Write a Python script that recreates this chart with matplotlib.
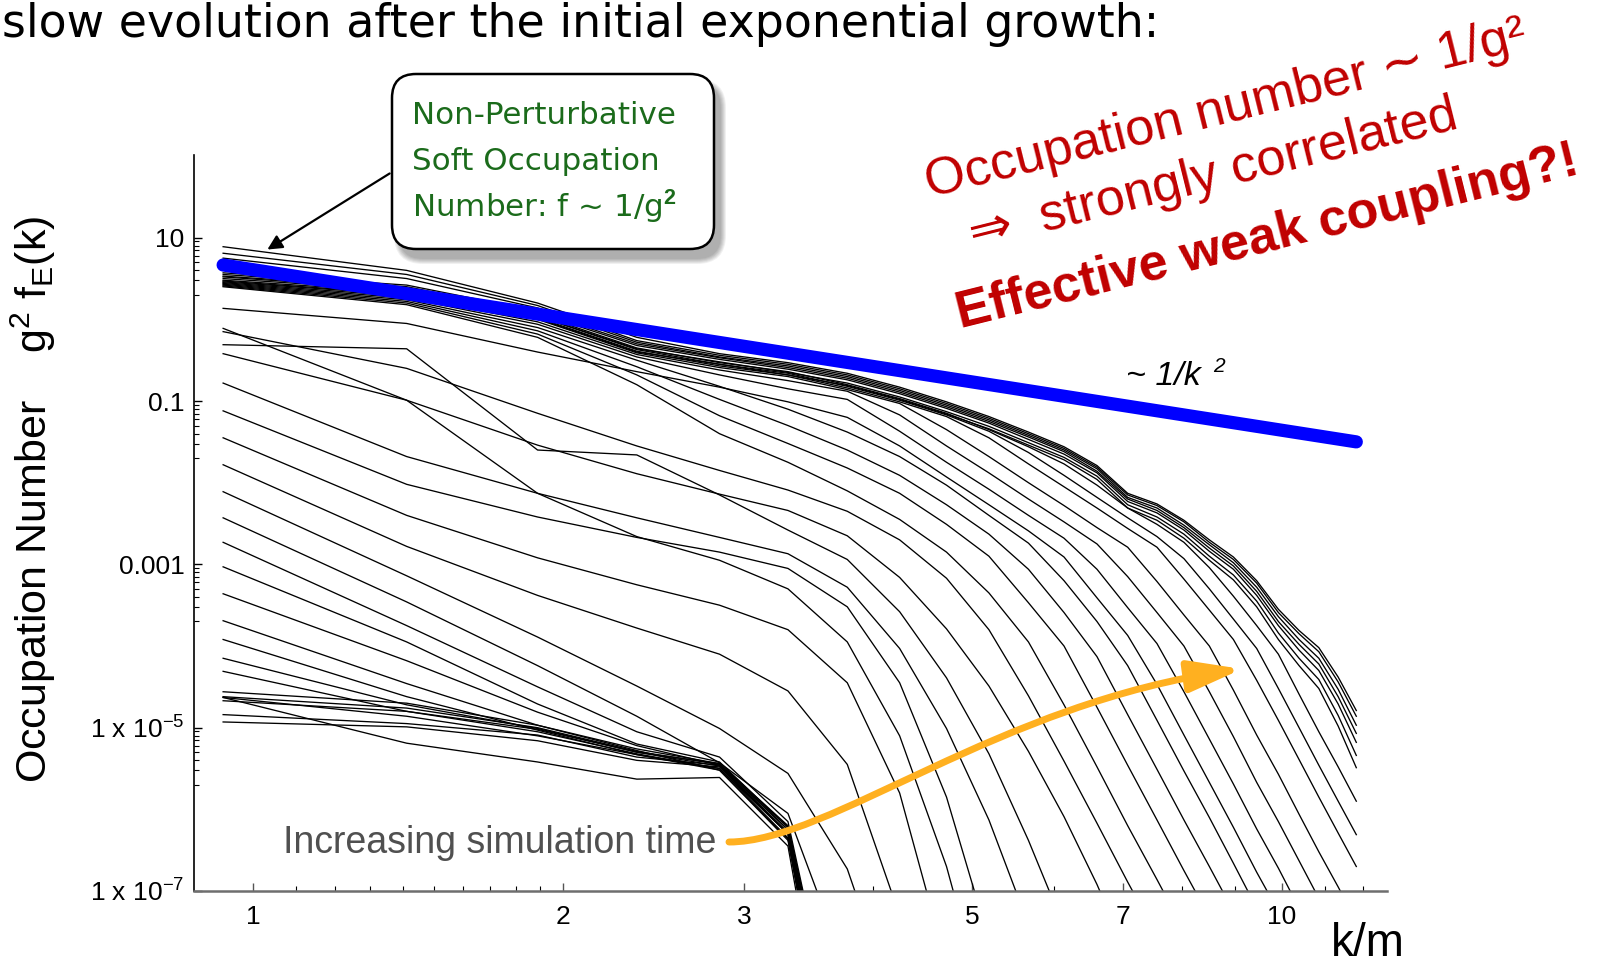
import matplotlib
matplotlib.use('Agg')
import matplotlib.pyplot as plt
from matplotlib.patches import FancyBboxPatch, FancyArrowPatch
from matplotlib.path import Path
from matplotlib.transforms import IdentityTransform
from matplotlib.ticker import NullFormatter
import numpy as np

plt.rcParams['font.family'] = ['Liberation Sans', 'DejaVu Sans']
plt.rcParams['mathtext.fontset'] = 'custom'
plt.rcParams['mathtext.rm'] = 'Liberation Sans'
plt.rcParams['mathtext.it'] = 'Liberation Sans:italic'
plt.rcParams['mathtext.bf'] = 'Liberation Sans:bold'

# lattice momenta k/m
k_nodes = [0.935, 1.41, 1.89, 2.36, 2.84, 3.31, 3.78, 4.25, 4.72, 5.19, 5.67, 6.14,
           6.61, 7.08, 7.56, 8.03, 8.50, 8.97, 9.45, 9.92, 10.39, 10.86, 11.34, 11.81]

# log10 of g^2 f_E(k), one list per simulation time
early_bundle = [
    [-4.93, -4.99, -5.16, -5.40, -5.48, -6.30, -10.0],
    [-4.84, -4.95, -5.09, -5.36, -5.46, -6.25, -9.8],
    [-4.67, -4.80, -5.02, -5.30, -5.44, -6.20, -9.5],
    [-4.63, -4.86, -5.10, -5.33, -5.50, -6.35, -10.2],
    [-4.62, -4.76, -5.00, -5.29, -5.45, -6.22, -9.6],
    [-4.63, -5.19, -5.42, -5.63, -5.61, -6.45, -10.5],
    [-4.56, -4.70, -4.97, -5.28, -5.52, -6.38, -10.0],
]

fan_lines = [
    [-4.31, -4.80, -5.05, -5.32, -5.50, -6.30, -10.2],
    [-4.15, -4.72, -5.01, -5.30, -5.47, -6.28, -10.0],
    [-3.92, -4.62, -5.03, -5.33, -5.52, -6.36, -10.4],
    [-3.69, -4.46, -4.97, -5.26, -5.44, -6.25, -9.9],
    [-3.36, -4.18, -4.81, -5.22, -5.46, -6.30, -10.1],
    [-3.03, -3.95, -4.71, -5.20, -5.42, -6.22, -9.7],
    [-2.73, -3.75, -4.50, -5.05, -5.36, -6.15, -9.5],
]

mid_lines = [
    [-2.43, -3.46, -4.24, -4.86, -5.43, -6.05, -8.0],
    [-2.11, -3.14, -3.89, -4.49, -5.01, -5.56, -6.73, -8.6],
    [-1.78, -2.78, -3.38, -3.78, -4.10, -4.55, -5.45, -7.3],
    [-1.45, -2.40, -2.92, -3.25, -3.50, -3.80, -4.45, -5.80, -7.9],
    [-0.11, -0.99, -2.13, -2.66, -2.95, -3.30, -3.95, -5.10, -6.70, -8.6],
    [-1.12, -2.02, -2.42, -2.67, -2.85, -3.05, -3.52, -4.45, -5.85, -7.6],
    [-0.78, -1.68, -2.13, -2.43, -2.67, -2.87, -3.28, -4.03, -5.01, -6.13, -7.41],
    [-0.31, -0.36, -1.60, -1.66, -2.15, -2.58, -2.94, -3.58, -4.39, -5.32, -6.38, -7.44],
    [-0.42, -0.99, -1.54, -1.89, -2.14, -2.34, -2.65, -3.16, -3.79, -4.49, -5.29, -6.09,
     -6.92, -7.79],
]

late_lines = [
    [-0.15, -0.60, -1.15, -1.55, -1.85, -2.09, -2.35, -2.70, -3.17, -3.80, -4.61, -5.41,
     -6.17, -6.89, -7.55],
    [0.40, 0.18, -0.22, -0.80, -1.40, -1.75, -2.10, -2.45, -2.85, -3.35, -3.95, -4.72,
     -5.48, -6.20, -6.86, -7.48],
    [0.41, 0.20, -0.18, -0.68, -1.18, -1.52, -1.82, -2.13, -2.51, -2.90, -3.47, -4.00,
     -4.75, -5.46, -6.13, -6.75, -7.32],
    [0.42, 0.22, -0.14, -0.58, -0.98, -1.30, -1.60, -1.91, -2.27, -2.63, -3.06, -3.59,
     -4.13, -4.84, -5.51, -6.13, -6.70, -7.25],
    [0.43, 0.24, -0.10, -0.50, -0.82, -1.10, -1.38, -1.68, -2.03, -2.40, -2.74, -3.20,
     -3.70, -4.24, -4.91, -5.53, -6.10, -6.66, -7.21],
    [0.135, -0.05, -0.40, -0.64, -0.83, -1.01, -1.20, -1.55, -1.93, -2.27, -2.59, -2.91,
     -3.41, -3.87, -4.47, -5.09, -5.67, -6.22, -6.77, -7.25],
    [0.44, 0.26, -0.06, -0.46, -0.68, -0.85, -0.98, -1.37, -1.75, -2.08, -2.40, -2.68,
     -3.06, -3.53, -3.97, -4.56, -5.14, -5.69, -6.24, -6.72, -7.21],
    [0.45, 0.28, -0.03, -0.43, -0.62, -0.75, -0.88, -1.17, -1.55, -1.88, -2.20, -2.48,
     -2.75, -3.15, -3.59, -4.00, -4.56, -5.11, -5.67, -6.15, -6.63, -7.09, -7.60],
    [0.46, 0.30, 0.00, -0.41, -0.59, -0.70, -0.86, -1.03, -1.35, -1.68, -2.00, -2.28,
     -2.55, -2.79, -3.21, -3.62, -4.00, -4.54, -5.09, -5.57, -6.06, -6.52, -6.95, -7.37],
    [0.47, 0.31, 0.02, -0.39, -0.57, -0.68, -0.84, -1.01, -1.19, -1.45, -1.77, -2.05,
     -2.31, -2.56, -2.79, -3.18, -3.56, -3.92, -4.42, -4.91, -5.39, -5.85, -6.29, -6.70],
    [0.48, 0.33, 0.04, -0.37, -0.55, -0.66, -0.82, -0.99, -1.17, -1.37, -1.63, -1.91,
     -2.18, -2.43, -2.66, -2.93, -3.30, -3.67, -4.03, -4.52, -5.00, -5.46, -5.90, -6.31],
    [0.50, 0.35, 0.06, -0.35, -0.53, -0.64, -0.80, -0.97, -1.15, -1.35, -1.56, -1.77,
     -2.03, -2.31, -2.51, -2.73, -3.04, -3.39, -3.75, -4.10, -4.59, -5.05, -5.48, -5.90],
]

saturated = [
    [0.89, 0.60, 0.20, -0.22, -0.42, -0.53, -0.66, -0.83, -1.01, -1.19, -1.38, -1.56,
     -1.79, -2.13, -2.26, -2.46, -2.70, -2.91, -3.20, -3.55, -3.81, -4.02, -4.38, -4.79],
    [0.81, 0.55, 0.17, -0.26, -0.44, -0.55, -0.68, -0.85, -1.03, -1.21, -1.40, -1.58,
     -1.81, -2.15, -2.28, -2.48, -2.73, -2.94, -3.23, -3.59, -3.85, -4.07, -4.44, -4.86],
    [0.75, 0.50, 0.14, -0.28, -0.46, -0.57, -0.70, -0.87, -1.05, -1.23, -1.42, -1.60,
     -1.83, -2.18, -2.31, -2.52, -2.76, -2.98, -3.28, -3.64, -3.92, -4.15, -4.53, -4.97],
    [0.57, 0.42, 0.10, -0.30, -0.47, -0.59, -0.72, -0.89, -1.07, -1.25, -1.44, -1.62,
     -1.86, -2.20, -2.34, -2.55, -2.80, -3.02, -3.33, -3.70, -3.98, -4.22, -4.62, -5.07],
    [0.55, 0.40, 0.08, -0.32, -0.49, -0.61, -0.74, -0.91, -1.09, -1.27, -1.47, -1.65,
     -1.88, -2.23, -2.37, -2.58, -2.84, -3.06, -3.38, -3.75, -4.05, -4.30, -4.71, -5.18],
    [0.53, 0.38, 0.04, -0.36, -0.52, -0.65, -0.78, -0.95, -1.13, -1.31, -1.51, -1.69,
     -1.92, -2.27, -2.42, -2.63, -2.90, -3.13, -3.45, -3.84, -4.15, -4.41, -4.85, -5.34],
    [0.52, 0.36, 0.01, -0.40, -0.55, -0.68, -0.81, -0.98, -1.16, -1.34, -1.54, -1.72,
     -1.96, -2.31, -2.46, -2.68, -2.95, -3.19, -3.52, -3.92, -4.24, -4.52, -4.98, -5.49],
]

# ~1/k^2 guide line, end points
guide_k = [0.935, 11.81]
guide_log_f = [0.666, -1.50]

y_major = [10, 0.1, 1e-3, 1e-5, 1e-7]
y_labels = ['10', '0.1', '0.001', '1 x 10$^{-5}$', '1 x 10$^{-7}$']
x_major = [1, 2, 3, 5, 7, 10]
x_labels = ['1', '2', '3', '5', '7', '10']
x_minor = [1.1, 1.2, 1.3, 1.4, 1.5, 1.6, 1.7, 1.8, 1.9, 4, 6, 8, 9, 11, 12]

W, H = 1608, 966
fig = plt.figure(figsize=(W / 100, H / 100), dpi=100)
ax = fig.add_axes([194 / W, 1 - 891 / H, (1387 - 194) / W, (891 - 155) / H])

for group in (early_bundle, fan_lines, mid_lines, late_lines, saturated):
    for vals in group:
        ax.plot(k_nodes[:len(vals)], 10.0 ** np.array(vals), color='k', lw=0.95, zorder=2)

ax.plot(guide_k, 10.0 ** np.array(guide_log_f), color='#0000ff', lw=9.5,
        solid_capstyle='round', zorder=3)

ax.set_xscale('log')
ax.set_yscale('log')
ax.set_xlim(0.876, 12.65)
ax.set_ylim(1e-7, 10 ** 2.013)

ax.set_xticks(x_major)
ax.set_xticklabels(x_labels)
ax.set_xticks(x_minor, minor=True)
ax.xaxis.set_minor_formatter(NullFormatter())
ax.set_yticks(y_major)
ax.set_yticklabels(y_labels)
y_minor = [m * d / 10 for d in y_major[:-1] for m in range(2, 10)]
ax.set_yticks(y_minor, minor=True)
ax.yaxis.set_minor_formatter(NullFormatter())

for s in ('top', 'right'):
    ax.spines[s].set_visible(False)
ax.spines['left'].set_linewidth(1.2)
ax.spines['bottom'].set_linewidth(1.8)
ax.spines['bottom'].set_color('#6e6e6e')
ax.tick_params(which='both', direction='in', labelsize=19)
ax.tick_params(which='major', length=6, width=1.0)
ax.tick_params(which='minor', length=3.5, width=0.8)
ax.tick_params(axis='x', pad=10, color='#555555')
ax.tick_params(axis='y', pad=7)

# axis labels
fig.text(47 / W, 1 - 783 / H, 'Occupation Number    g$^{2}$ f$_{\\mathrm{E}}$(k)',
         rotation=90, rotation_mode='anchor', ha='left', va='baseline', fontsize=31)
fig.text(1405 / W, 1 - 956 / H, 'k/m', ha='right', va='baseline', fontsize=33)

# title
fig.text(2 / W, 1 - 37 / H, 'slow evolution after the initial exponential growth:',
         ha='left', va='baseline', fontsize=33, family='DejaVu Sans')

# callout box with shadow
for i in range(6):
    sh = FancyBboxPatch((392 + 7 - i, H - 249 - 10 - i), 322 + 2 * i, 175 + 2 * i,
                        boxstyle='round,pad=0,rounding_size=%d' % (24 + i),
                        transform=IdentityTransform(), facecolor='#000000',
                        edgecolor='none', alpha=0.06, zorder=5)
    fig.add_artist(sh)
box = FancyBboxPatch((392, H - 249), 322, 175, boxstyle='round,pad=0,rounding_size=24',
                     transform=IdentityTransform(), facecolor='white', edgecolor='black',
                     lw=1.8, zorder=6)
fig.add_artist(box)
green = '#1b6b1b'
box_lines = ['Non-Perturbative', 'Soft Occupation', 'Number: f ~ 1/g$^{\\mathbf{2}}$']
for txt, yb in zip(box_lines, [124, 170, 217]):
    fig.text(412 / W, 1 - yb / H, txt, ha='left', va='baseline', fontsize=22.3,
             color=green, family='DejaVu Sans', zorder=7)
ax.annotate('', xy=(265, H - 251), xytext=(392, H - 172), xycoords='figure pixels',
            textcoords='figure pixels',
            arrowprops=dict(arrowstyle='-|>', color='k', lw=1.6, mutation_scale=22),
            zorder=7)

# red comment
red = '#c00000'
fig.text(929 / W, 1 - 197 / H, 'Occupation number \u223c 1/g\u00b2', rotation=14,
         rotation_mode='anchor', ha='left', va='baseline', fontsize=37.5, color=red)
fig.text(973 / W, 1 - 249 / H, '\u21d2  strongly correlated', rotation=14,
         rotation_mode='anchor', ha='left', va='baseline', fontsize=37.5, color=red)
fig.text(960 / W, 1 - 328 / H, 'Effective weak coupling?!', rotation=14,
         rotation_mode='anchor', ha='left', va='baseline', fontsize=37.5, color=red,
         fontweight='bold')

# power law label
fig.text(1126 / W, 1 - 385 / H, '~ 1/k', ha='left', va='baseline', fontsize=24.5,
         style='italic')
fig.text(1213 / W, 1 - 372 / H, '2', ha='left', va='baseline', fontsize=15,
         style='italic')

# time arrow
fig.text(283 / W, 1 - 853 / H, 'Increasing simulation time', ha='left', va='baseline',
         fontsize=27, color='#505050')
verts = [(729, H - 842), (830, H - 842), (1000, H - 702), (1242, H - 669)]
codes = [Path.MOVETO, Path.CURVE4, Path.CURVE4, Path.CURVE4]
arr = FancyArrowPatch(path=Path(verts, codes), transform=IdentityTransform(),
                      arrowstyle='-|>,head_length=3.2,head_width=0.95', mutation_scale=10,
                      color='#ffb020', lw=5, zorder=8)
fig.add_artist(arr)

fig.savefig('out.png', dpi=100)
